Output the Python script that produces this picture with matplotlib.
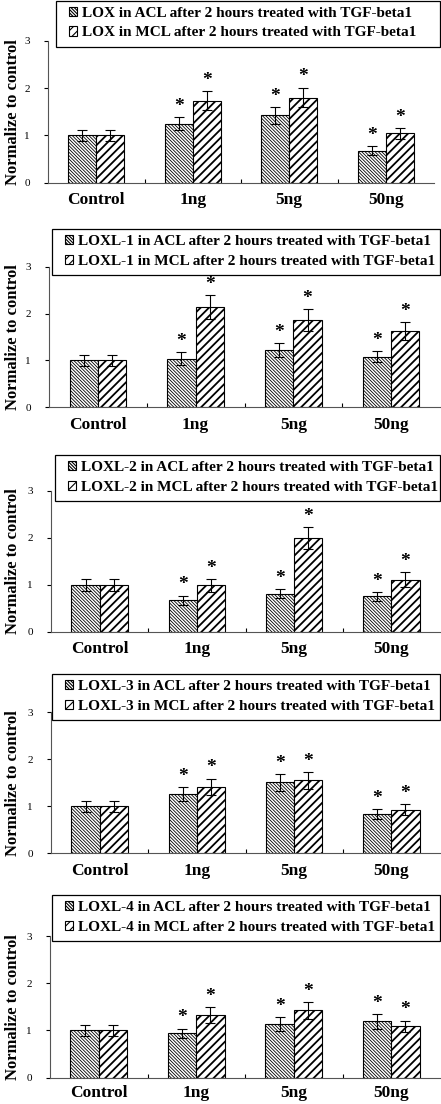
import numpy as np
import matplotlib
matplotlib.use('Agg')
import matplotlib.pyplot as plt
from matplotlib.patches import Rectangle

plt.rcParams['font.family'] = ['Liberation Serif', 'DejaVu Serif']
plt.rcParams['hatch.linewidth'] = 0.8

W, H = 441, 1104
DPI = 100

categories = ['Control', '1ng', '5ng', '50ng']
genes = ['LOX', 'LOXL-1', 'LOXL-2', 'LOXL-3', 'LOXL-4']

# mean values (normalized to control) and error bar half-lengths
acl_mean = [
    [1.00, 1.25, 1.42, 0.68],
    [1.00, 1.04, 1.23, 1.08],
    [1.00, 0.67, 0.81, 0.75],
    [1.00, 1.26, 1.51, 0.83],
    [1.00, 0.94, 1.14, 1.19],
]
acl_err = [
    [0.12, 0.13, 0.17, 0.09],
    [0.12, 0.13, 0.15, 0.12],
    [0.13, 0.10, 0.10, 0.09],
    [0.12, 0.15, 0.18, 0.11],
    [0.12, 0.10, 0.15, 0.15],
]
mcl_mean = [
    [1.00, 1.735, 1.80, 1.04],
    [1.00, 2.14, 1.86, 1.62],
    [1.00, 0.99, 1.99, 1.11],
    [1.00, 1.41, 1.55, 0.93],
    [1.00, 1.32, 1.43, 1.09],
]
mcl_err = [
    [0.12, 0.20, 0.21, 0.12],
    [0.12, 0.25, 0.23, 0.19],
    [0.13, 0.14, 0.23, 0.15],
    [0.12, 0.18, 0.18, 0.11],
    [0.12, 0.17, 0.18, 0.12],
]
# significance markers (True = '*')
acl_sig = [False, True, True, True]
mcl_sig = [False, True, True, True]

# panel geometry in pixels: (y of 0, y of 3, left, right, legend top, legend left)
panels_px = [
    (182.7, 40.7, 48, 434, 0.5, 56),
    (407.3, 266.7, 49, 440, 229, 52),
    (631.7, 490.7, 51, 440, 455, 55),
    (853.3, 712.3, 51, 440, 674, 52),
    (1077.7, 936.0, 50, 440, 895, 52),
]
LEG_RIGHT = 439.5
LEG_H = 46

fig = plt.figure(figsize=(W / DPI, H / DPI), dpi=DPI)
x = np.arange(len(categories))
bw = 0.29


def star(ax, xs, top):
    ax.annotate('*', (xs, top), xytext=(0, 1.5), textcoords='offset points',
                ha='center', va='bottom', fontsize=14, fontweight='bold')


for k, gene in enumerate(genes):
    y0, y3, lpx, rpx, ltop, lleft = panels_px[k]
    ax = fig.add_axes([lpx / W, 1 - y0 / H, (rpx - lpx) / W, (y0 - y3) / H])

    b1 = ax.bar(x - bw / 2, acl_mean[k], bw, color='white', edgecolor='black',
                linewidth=0.8, hatch='\\' * 10,
                label=f'{gene} in ACL after 2 hours treated with TGF-beta1')
    b2 = ax.bar(x + bw / 2, mcl_mean[k], bw, color='white', edgecolor='black',
                linewidth=0.8, hatch='////',
                label=f'{gene} in MCL after 2 hours treated with TGF-beta1')
    for p in b1:
        if hasattr(p, 'set_hatch_linewidth'):
            p.set_hatch_linewidth(0.6)
    for p in b2:
        if hasattr(p, 'set_hatch_linewidth'):
            p.set_hatch_linewidth(1.3)
    ax.errorbar(x - bw / 2, acl_mean[k], yerr=acl_err[k], fmt='none',
                ecolor='black', elinewidth=0.8, capsize=3.5, capthick=0.8)
    ax.errorbar(x + bw / 2, mcl_mean[k], yerr=mcl_err[k], fmt='none',
                ecolor='black', elinewidth=0.8, capsize=3.5, capthick=0.8)

    for i in range(len(categories)):
        if acl_sig[i]:
            star(ax, x[i] - bw / 2, acl_mean[k][i] + acl_err[k][i])
        if mcl_sig[i]:
            star(ax, x[i] + bw / 2, mcl_mean[k][i] + mcl_err[k][i])

    ax.set_xlim(-0.5, 3.5)
    ax.set_ylim(0, 3)
    ax.set_yticks([0, 1, 2, 3])
    ax.tick_params(axis='y', direction='out', length=3, width=0.8,
                   labelsize=8, pad=10)
    ax.set_xticks(x)
    ax.set_xticklabels(categories, fontsize=12.5, fontweight='bold')
    ax.tick_params(axis='x', length=0, pad=5 if k == len(genes) - 1 else 7)
    ax.set_xticks([0.5, 1.5, 2.5], minor=True)
    ax.tick_params(axis='x', which='minor', direction='in', length=3, width=0.8)
    for s in ['top', 'right']:
        ax.spines[s].set_visible(False)
    for s in ['left', 'bottom']:
        ax.spines[s].set_linewidth(0.8)
        ax.spines[s].set_color('#555555')

    ax.set_ylabel('Normalize to control', fontsize=12, fontweight='bold')
    ax.yaxis.set_label_coords((21 - lpx) / (rpx - lpx), 0.5)

    # legend box drawn separately (large side padding in the original)
    fig.patches.append(Rectangle((lleft / W, 1 - (ltop + LEG_H) / H),
                                 (LEG_RIGHT - lleft) / W, LEG_H / H,
                                 transform=fig.transFigure, facecolor='white',
                                 edgecolor='black', linewidth=0.9, zorder=5))
    leg = ax.legend(loc='upper left',
                    bbox_to_anchor=((lleft + 13) / W, 1 - (ltop + 6) / H),
                    bbox_transform=fig.transFigure,
                    prop={'family': 'Liberation Serif', 'weight': 'bold', 'size': 11},
                    frameon=False, borderaxespad=0, borderpad=0, labelspacing=0.45,
                    handlelength=0.55, handleheight=0.55, handletextpad=0.3)
    leg.set_zorder(6)
    leg.set_in_layout(False)
    leg.remove()
    fig.add_artist(leg)

fig.savefig('out.png', dpi=DPI)
